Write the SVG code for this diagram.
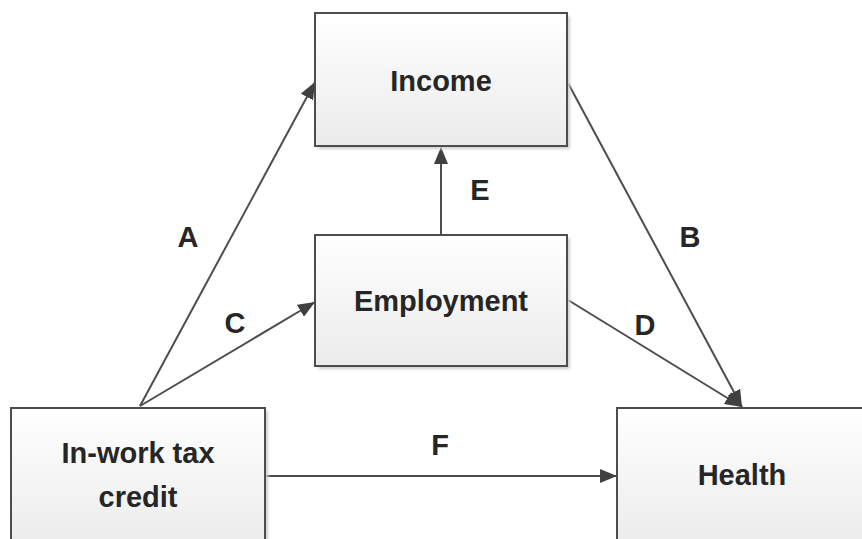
<svg xmlns="http://www.w3.org/2000/svg" width="862" height="539" viewBox="0 0 862 539">
<defs>
<linearGradient id="boxfill" x1="0" y1="0" x2="0" y2="1">
<stop offset="0" stop-color="#ffffff"/>
<stop offset="1" stop-color="#ebebeb"/>
</linearGradient>
<marker id="arr" markerUnits="userSpaceOnUse" markerWidth="18" markerHeight="14" refX="17" refY="7" orient="auto">
<path d="M0,0 L17,7 L0,14 z" fill="#404040"/>
</marker>
<filter id="sh" x="-10%" y="-10%" width="130%" height="130%">
<feGaussianBlur stdDeviation="1.5"/>
</filter>
</defs>
<style>
.shadow{fill:#cfcfcf;filter:url(#sh);}
.box{fill:url(#boxfill);stroke:#4d4d4d;stroke-width:2;}
.t{font-family:"Liberation Sans",Arial,sans-serif;font-weight:bold;font-size:29px;fill:#262626;text-anchor:middle;}
.lbl{font-family:"Liberation Sans",Arial,sans-serif;font-weight:bold;font-size:29px;fill:#262626;text-anchor:middle;}
.c{stroke:#4d4d4d;stroke-width:2;fill:none;marker-end:url(#arr);}
</style>
<rect width="862" height="539" fill="#ffffff"/>
<g id="connectors">
<line class="c" x1="140" y1="406" x2="315" y2="82"/>
<line class="c" x1="140" y1="406" x2="315" y2="302"/>
<line class="c" x1="441" y1="235" x2="441" y2="147"/>
<line class="c" x1="568" y1="83" x2="742" y2="407"/>
<line class="c" x1="568" y1="300" x2="742" y2="407"/>
<line class="c" x1="265" y1="476" x2="617" y2="476"/>
<text class="lbl" x="188" y="247">A</text>
<text class="lbl" x="690" y="247">B</text>
<text class="lbl" x="235" y="333">C</text>
<text class="lbl" x="645" y="335">D</text>
<text class="lbl" x="480" y="200">E</text>
<text class="lbl" x="440" y="455">F</text>
</g>
<g id="income">
<rect class="shadow" x="318" y="16" width="252" height="133"/>
<rect class="box" x="315" y="13" width="252" height="133"/>
<text class="t" x="441" y="91">Income</text>
</g>
<g id="employment">
<rect class="shadow" x="318" y="238" width="252" height="131"/>
<rect class="box" x="315" y="235" width="252" height="131"/>
<text class="t" x="441" y="311">Employment</text>
</g>
<g id="taxcredit">
<rect class="shadow" x="14" y="411" width="254" height="140"/>
<rect class="box" x="11" y="408" width="254" height="140"/>
<text class="t" x="138" y="463">In-work tax</text>
<text class="t" x="138" y="507">credit</text>
</g>
<g id="health">
<rect class="shadow" x="620" y="411" width="260" height="140"/>
<rect class="box" x="617" y="408" width="260" height="140"/>
<text class="t" x="742" y="485">Health</text>
</g>
</svg>
